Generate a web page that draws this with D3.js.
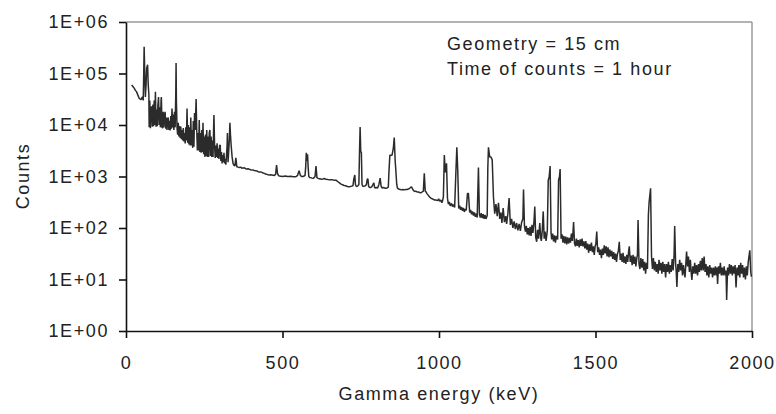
<!DOCTYPE html>
<html>
<head>
<meta charset="utf-8">
<script src="https://cdn.jsdelivr.net/npm/d3@7"></script>
<style>
body { margin: 0; background: #fff; }
text { font-family: "Liberation Sans", Arial, sans-serif; font-size: 18px; letter-spacing: 1.6px; fill: #222; }
</style>
</head>
<body>
<svg id="canvas" width="776" height="414"></svg>
<script>
// spectrum points: [energy keV, counts]
let lowEnergy = [[18,60000],[22,56000],[26,52000],[30,47000],[34,44000],[38,38000],[42,33000],[45,32000],[48,31000],[51,34000],[53,35000],[55,30000],[56,60000],[58,330000],[60,90000],[62,35000],[64,60000],[66,125000],[69,148000],[71,60000],[73,40000],[74,9000],[76,30000],[78,8700],[80,20000],[82,23000],[84,9300],[86,25000],[88,9500],[90,30000],[92,10000],[94,44000],[96,9300],[98,20000],[100,9500],[102,25000],[104,35000],[106,10000],[108,22000],[110,9000],[112,30000],[113,35000],[115,9000],[117,8700],[119,18000],[121,9000],[123,15000],[125,18000],[127,8500],[129,14000],[131,8000],[133,13000],[135,14000],[137,8000],[139,12000],[141,7800],[143,15000],[145,8500],[147,21000],[149,9000],[151,16000],[153,8000],[155,18000],[157,9000],[159,40000],[160,160000],[161,30000],[163,9000],[165,6500],[167,11000],[169,6000],[171,9500],[173,5600],[175,9300],[177,5300],[179,8000],[181,5000],[183,8700],[185,4800],[187,7000],[189,4400],[191,9000],[193,5000],[195,21000],[197,4500],[199,10000],[201,4200],[203,9000],[205,4000],[207,14000],[209,4000],[211,8000],[213,3600],[215,12000],[217,3800],[219,17000],[221,8000],[223,20000],[224,32000],[226,8000],[228,3200],[230,7000],[232,3200],[234,12500],[236,3000],[238,7000],[240,2900],[242,8000],[244,3000],[246,11000],[248,2700],[250,6000],[252,2400],[254,6500],[256,2500],[258,8000],[260,2400],[262,6000],[264,2400],[266,7000],[268,8000],[270,2500],[272,6000],[274,2400],[276,5000],[278,2400],[280,9000],[281,15600],[283,4000],[285,2300],[287,4000],[289,2400],[291,4400],[293,2300],[295,3500],[297,2200],[299,4000],[301,4100],[303,2000],[305,3000],[307,1800],[309,2600],[311,1900],[313,2900],[315,1800],[317,2200],[319,1700],[321,2500],[323,4000],[324,7000],[326,1900],[328,3000],[330,5000],[332,11000],[334,6000],[336,4000],[339,2400],[342,1800],[345,1650],[348,1600],[351,2300]]

let midEnergy = [[354,1550],[358,1520],[362,1500],[366,1520],[370,1450],[374,1470],[378,1480],[382,1420],[386,1400],[390,1420],[394,1380],[398,1350],[402,1330],[406,1340],[410,1300],[414,1290],[418,1280],[422,1240],[426,1220],[430,1230],[434,1200],[438,1170],[442,1150],[446,1120],[450,1100],[454,1080],[458,1070],[462,1080],[466,1070],[470,1060],[474,1050],[478,1100],[481,1670],[484,1150],[487,1050],[490,1020],[495,1010],[500,1000],[505,1010],[510,1020],[515,1000],[520,1000],[525,1010],[530,1000],[535,990],[540,990],[544,1000],[548,1050],[553,1300],[557,1050],[561,1000],[565,1000],[569,1020],[572,1050],[574,1500],[576,2900],[578,2000],[580,2700],[582,1500],[584,1000],[587,960],[590,950],[594,930],[598,920],[601,950],[604,1000],[607,1600],[610,950],[614,920],[618,900],[622,890],[626,880],[630,900],[633,920],[636,890],[640,880],[645,870],[650,860],[655,860],[660,860],[666,850],[671,850],[676,800],[681,760],[686,720],[692,690],[697,670],[702,660],[707,640],[712,630],[717,640],[721,650],[725,660],[728,900],[731,1070],[733,700],[736,640],[740,650],[744,700],[746,2900],[748,9100],[750,3000],[752,2960],[754,700],[757,640],[761,650],[765,660],[768,700],[771,890],[773,890],[775,650],[777,620],[781,610],[785,630],[789,700],[792,750],[794,620],[796,600],[800,610],[804,600],[808,700],[812,930],[815,650],[818,600],[822,610],[826,600],[830,590],[834,600],[838,620],[840,1200],[843,2600],[847,2600],[850,2600],[854,3500],[857,5700],[860,2000],[862,1340],[865,700],[867,600],[871,570],[876,560],[880,550],[885,560],[890,550],[894,560],[898,560],[902,570],[906,590],[910,620],[912,630],[915,580],[918,540],[922,510],[926,520],[930,500],[934,500],[938,490],[942,480],[946,500],[950,520],[953,1150],[956,520],[958,510],[962,460],[966,430],[970,400],[974,380],[978,370],[982,360],[986,350],[990,350]]

let highEnergy = [[996,340],[999,370],[1002,330],[1006,350],[1009,310],[1011,330],[1014,400],[1017,2600],[1020,1200],[1024,1800],[1027,380],[1030,290],[1033,320],[1036,270],[1040,300],[1043,260],[1046,285],[1050,250],[1054,1250],[1057,3700],[1060,1250],[1063,240],[1066,270],[1069,225],[1072,255],[1075,215],[1078,245],[1081,205],[1084,235],[1087,220],[1091,470],[1094,470],[1098,200],[1101,225],[1104,185],[1107,210],[1110,175],[1113,200],[1116,165],[1119,190],[1122,160],[1126,1500],[1129,185],[1132,160],[1135,195],[1138,155],[1141,185],[1144,150],[1147,180],[1150,150],[1154,175],[1156,1500],[1158,3700],[1162,2400],[1166,2400],[1170,2100],[1174,400],[1178,190],[1182,290],[1186,170],[1190,310],[1194,150],[1198,200],[1201,125],[1205,245],[1209,130],[1213,170],[1216,120],[1220,190],[1224,380],[1228,115],[1232,150],[1236,100],[1240,135],[1244,95],[1248,125],[1252,90],[1256,120],[1260,88],[1264,130],[1268,150],[1270,560],[1273,110],[1276,85],[1279,110],[1282,75],[1285,100],[1288,72],[1291,105],[1294,70],[1297,115],[1300,80],[1303,120],[1306,260],[1309,66],[1312,54],[1315,92],[1318,62],[1322,125],[1325,64],[1327,56],[1330,90],[1333,210],[1336,62],[1339,85],[1342,56],[1346,88],[1349,850],[1352,980],[1355,1600],[1358,80],[1360,60],[1363,78],[1366,55],[1369,72],[1372,52],[1375,70],[1379,60],[1382,850],[1385,1000],[1387,1400],[1390,62],[1393,75],[1396,52],[1399,70],[1402,50],[1405,68],[1408,48],[1411,66],[1414,50],[1417,64],[1420,52],[1423,78],[1426,56],[1428,82],[1430,130],[1433,50],[1436,44],[1439,62],[1442,45],[1445,58],[1448,42],[1451,60],[1454,45],[1457,62],[1460,44],[1463,55],[1466,40],[1469,56],[1472,38],[1475,50],[1478,33],[1481,48],[1484,36],[1487,52],[1490,34],[1493,44],[1496,30],[1499,45],[1501,48],[1504,85],[1507,34],[1510,42],[1513,30],[1516,38],[1519,26],[1522,40],[1525,30],[1528,46],[1531,32],[1534,44],[1537,28],[1540,42],[1543,27],[1546,38],[1549,28],[1552,36],[1555,25],[1558,34],[1561,24],[1564,32],[1567,22],[1570,31],[1573,36],[1576,54],[1579,24],[1582,32],[1585,22],[1588,33],[1591,21],[1594,28],[1597,20],[1600,30],[1603,22],[1606,36],[1608,44],[1611,22],[1614,29],[1617,19],[1620,30],[1623,20],[1626,28],[1629,18],[1632,26],[1634,30],[1636,143],[1639,20],[1642,16],[1645,26],[1648,17],[1651,25],[1654,15],[1657,22],[1660,13],[1663,21],[1666,16],[1669,180],[1671,300],[1673,400],[1676,590],[1679,28],[1682,16],[1685,26],[1688,15],[1691,22],[1694,14],[1697,20],[1700,13],[1703,24],[1706,15],[1709,21],[1712,13],[1715,22],[1718,14],[1721,20],[1724,11],[1727,20],[1730,14],[1733,22],[1736,13],[1739,19],[1742,14],[1745,25],[1748,15],[1751,30],[1753,109],[1756,20],[1758,14],[1760,7.2],[1763,20],[1766,14],[1769,24],[1772,15],[1775,21],[1778,12],[1781,19],[1784,13],[1786,11],[1789,22],[1791,35],[1794,18],[1797,28],[1800,14],[1803,24],[1806,13],[1808,9.8],[1811,18],[1814,13],[1817,21],[1820,13],[1823,19],[1826,12],[1829,20],[1832,14],[1835,23],[1838,15],[1841,26],[1844,15],[1847,28],[1850,14],[1853,20],[1856,12],[1859,18],[1862,11],[1865,19],[1868,13],[1871,17],[1874,11],[1877,17],[1880,12],[1883,18],[1886,12],[1888,17],[1890,8.2],[1893,18],[1896,13],[1899,21],[1902,12],[1905,17],[1908,12],[1911,18],[1914,12],[1917,15],[1919,4],[1922,17],[1925,12],[1928,20],[1931,13],[1934,19],[1937,12],[1940,18],[1943,13],[1946,19],[1949,7],[1952,17],[1955,12],[1958,19],[1961,11],[1964,21],[1967,13],[1970,19],[1973,11],[1976,17],[1979,10],[1982,18],[1985,12],[1988,22],[1991,30],[1993,37],[1996,14],[1998,11.3]]

let yTickValues = [1, 10, 100, 1000, 10000, 100000, 1000000]
let yTickLabels = ["1E+00", "1E+01", "1E+02", "1E+03", "1E+04", "1E+05", "1E+06"]
let xTickValues = [0, 500, 1000, 1500, 2000]
let notes = ["Geometry = 15 cm", "Time of counts = 1 hour"]

let spectrum = lowEnergy.concat(midEnergy, highEnergy)

let plotLeft = 126, plotRight = 752, plotTop = 22, plotBottom = 331

let canvas = d3.select("#canvas")

let xScale = d3.scaleLinear().domain([0, 2000]).range([plotLeft, plotRight])
let yScale = d3.scaleLog().domain([1, 1e6]).range([plotBottom, plotTop])

// grey frame on top and right
canvas.append('line')
    .attr('x1', plotLeft).attr('x2', plotRight).attr('y1', plotTop).attr('y2', plotTop)
    .attr('stroke', '#9a9a9a').attr('stroke-width', 1.5)
canvas.append('line')
    .attr('x1', plotRight).attr('x2', plotRight).attr('y1', plotTop).attr('y2', plotBottom)
    .attr('stroke', '#9a9a9a').attr('stroke-width', 1.5)

let line = d3.line()
    .x((d) => xScale(d[0]))
    .y((d) => yScale(d[1]))

canvas.append('path')
    .datum(spectrum)
    .attr('d', line)
    .attr('fill', 'none')
    .attr('stroke', '#2b2b2b')
    .attr('stroke-width', 1.5)
    .attr('stroke-linejoin', 'bevel')

let yAxis = d3.axisLeft(yScale)
    .tickValues(yTickValues)
    .tickFormat((d, i) => yTickLabels[i])
    .tickSize(7)
    .tickSizeOuter(0)
    .tickPadding(10)

let xAxis = d3.axisBottom(xScale)
    .tickValues(xTickValues)
    .tickFormat(d3.format('d'))
    .tickSize(7)
    .tickSizeOuter(0)
    .tickPadding(18)

canvas.append('g')
    .attr('transform', 'translate(' + plotLeft + ',0)')
    .call(yAxis)

canvas.append('g')
    .attr('transform', 'translate(0,' + plotBottom + ')')
    .call(xAxis)

canvas.selectAll('.domain, .tick line')
    .attr('stroke', '#111')
    .attr('stroke-width', 1.6)

canvas.append('text')
    .attr('x', (plotLeft + plotRight) / 2)
    .attr('y', 400)
    .attr('text-anchor', 'middle')
    .text('Gamma energy (keV)')

canvas.append('text')
    .attr('transform', 'translate(29,176) rotate(-90)')
    .attr('text-anchor', 'middle')
    .text('Counts')

canvas.selectAll('.note')
    .data(notes)
    .enter()
    .append('text')
    .attr('class', 'note')
    .attr('x', 447)
    .attr('y', (d, i) => 50 + i * 25)
    .text((d) => d)
</script>
</body>
</html>
